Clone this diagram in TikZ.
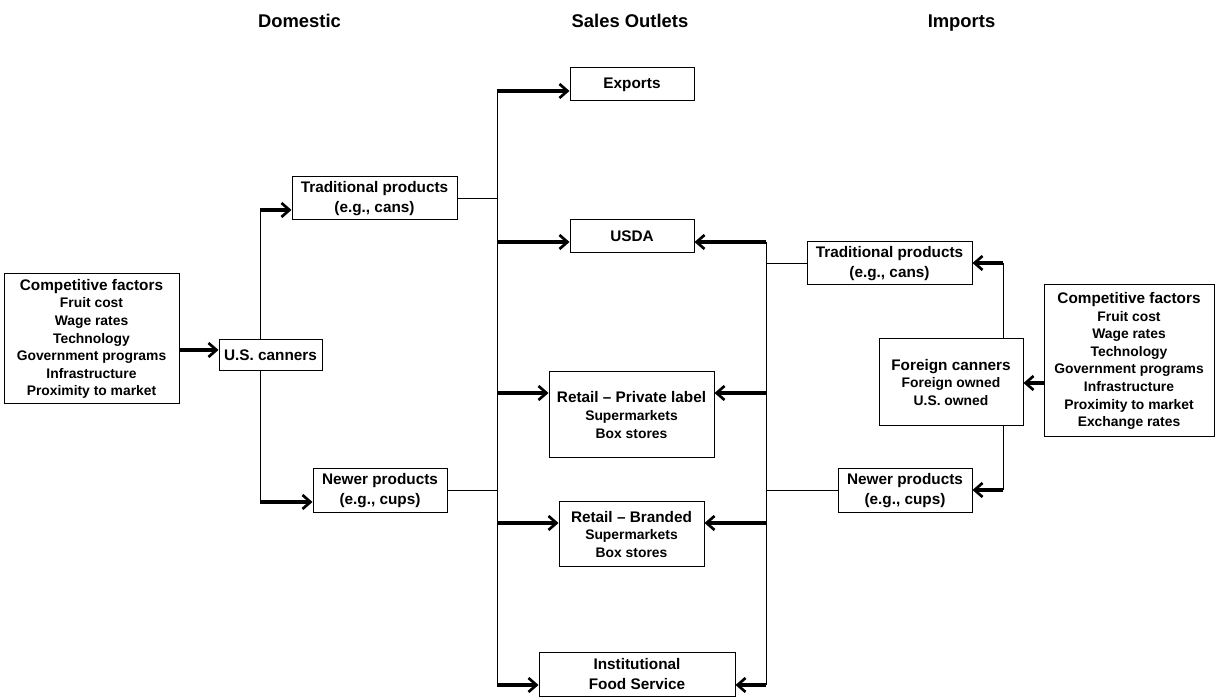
\documentclass[tikz,border=0pt]{standalone}
\usepackage{fontspec}
\setmainfont{Liberation Sans}
\usetikzlibrary{arrows.meta}
\newcommand\bigf{\fontsize{11.5}{15}\selectfont\bfseries}
\newcommand\smf{\fontsize{10.4}{13.2}\selectfont\bfseries}
\newcommand\hdf{\fontsize{13.8}{16}\selectfont\bfseries}
\begin{document}
\begin{tikzpicture}[x=0.75pt,y=-0.75pt,
  box/.style={draw, line width=0.75pt, align=center, inner sep=0pt},
  thinln/.style={line width=0.75pt},
  arr/.style={line width=2.6pt, -{Straight Barb[length=6pt,width=10.5pt,line width=2pt]}},
  hdr/.style={font=\hdf, anchor=base}]
\useasboundingbox (0,0) rectangle (1215,698);

% headers
\node[hdr] (hdom) at (299.5,28) {Domestic};
\node[hdr] (hsal) at (630,28) {Sales Outlets};
\node[hdr] (himp) at (961.5,28) {Imports};

% domestic side
\node[box, minimum width=131.25pt, minimum height=97.5pt, font=\smf] (cfL) at (91.5,339)
  {{\bigf Competitive factors}\\Fruit cost\\Wage rates\\Technology\\Government programs\\Infrastructure\\Proximity to market};
\node[box, minimum width=77.25pt, minimum height=23.25pt, font=\bigf] (usc) at (270.5,355.5) {U.S. canners};
\node[box, minimum width=123.75pt, minimum height=32.25pt, font=\bigf] (tradL) at (374.5,198.5) {Traditional products\\(e.g., cans)};
\node[box, minimum width=100.5pt, minimum height=33pt, font=\bigf] (nwL) at (380,491) {Newer products\\(e.g., cups)};

% sales outlets
\node[box, minimum width=93pt, minimum height=24.75pt, font=\bigf] (exp) at (632,84.5) {Exports};
\node[box, minimum width=93pt, minimum height=24.75pt, font=\bigf] (usda) at (632,236.5) {USDA};
\node[box, minimum width=123.75pt, minimum height=64.5pt, font=\smf] (rpl) at (631.5,415)
  {{\bigf Retail -- Private label}\\Supermarkets\\Box stores};
\node[box, minimum width=108.75pt, minimum height=48.75pt, font=\smf] (rbr) at (631.5,534.5)
  {{\bigf Retail -- Branded}\\Supermarkets\\Box stores};
\node[box, minimum width=147pt, minimum height=32.25pt, font=\bigf] (inst) at (637,674.5) {Institutional\\Food Service};

% imports side
\node[box, minimum width=123.75pt, minimum height=32.25pt, font=\bigf] (tradR) at (889.5,263.5) {Traditional products\\(e.g., cans)};
\node[box, minimum width=100.5pt, minimum height=33pt, font=\bigf] (nwR) at (905,491) {Newer products\\(e.g., cups)};
\node[box, minimum width=108pt, minimum height=65.25pt, font=\smf] (fc) at (951,382.5)
  {{\bigf Foreign canners}\\Foreign owned\\U.S. owned};
\node[box, minimum width=127.5pt, minimum height=114pt, font=\smf] (cfR) at (1129,361)
  {{\bigf Competitive factors}\\Fruit cost\\Wage rates\\Technology\\Government programs\\Infrastructure\\Proximity to market\\Exchange rates};

% domestic connectors
\coordinate (rA) at (0,350);
\draw[arr] (cfL.east |- rA) -- (usc.west |- rA);
\coordinate (j1) at (260,210);
\coordinate (j2) at (260,502);
\draw[thinln] (usc.north -| j1) -- (j1);
\draw[arr] (j1) -- (tradL.west |- j1);
\draw[thinln] (usc.south -| j2) -- (j2);
\draw[arr] (j2) -- (nwL.west |- j2);

% left trunk
\coordinate (r1) at (497,91);
\coordinate (r2) at (497,242);
\coordinate (r3) at (497,393);
\coordinate (r4) at (497,523);
\coordinate (r5) at (497,685);
\draw[thinln] (r1) -- (r5);
\draw[thinln] (tradL.east) -- (tradL.east -| r1);
\draw[thinln] (nwL.east) -- (nwL.east -| r1);
\draw[arr] (r1) -- (exp.west |- r1);
\draw[arr] (r2) -- (usda.west |- r2);
\draw[arr] (r3) -- (rpl.west |- r3);
\draw[arr] (r4) -- (rbr.west |- r4);
\draw[arr] (r5) -- (inst.west |- r5);

% right trunk
\coordinate (s2) at (766,242);
\coordinate (s3) at (766,393);
\coordinate (s4) at (766,523);
\coordinate (s5) at (766,685);
\draw[thinln] (s2) -- (s5);
\draw[thinln] (tradR.west) -- (tradR.west -| s2);
\draw[thinln] (nwR.west) -- (nwR.west -| s2);
\draw[arr] (s2) -- (usda.east |- s2);
\draw[arr] (s3) -- (rpl.east |- s3);
\draw[arr] (s4) -- (rbr.east |- s4);
\draw[arr] (s5) -- (inst.east |- s5);

% foreign canners connectors
\coordinate (k1) at (1003,263);
\coordinate (k2) at (1003,490);
\draw[thinln] (fc.north -| k1) -- (k1);
\draw[arr] (k1) -- (tradR.east |- k1);
\draw[thinln] (fc.south -| k2) -- (k2);
\draw[arr] (k2) -- (nwR.east |- k2);
\coordinate (rB) at (0,383);
\draw[arr] (cfR.west |- rB) -- (fc.east |- rB);
\end{tikzpicture}
\end{document}
